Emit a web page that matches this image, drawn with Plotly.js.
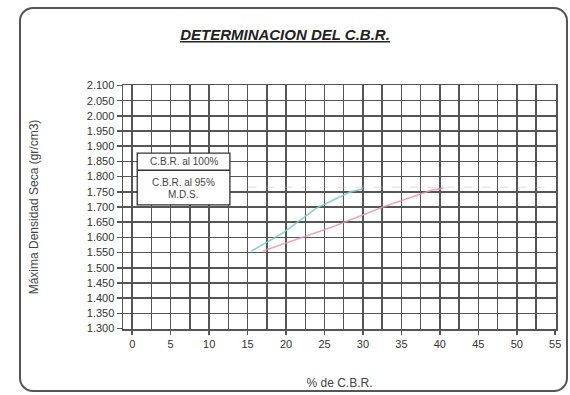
<!DOCTYPE html>
<html>
<head>
<meta charset="utf-8">
<script src="https://cdn.plot.ly/plotly-3.0.1.min.js"></script>
<style>
  html, body { margin: 0; padding: 0; background: #ffffff; }
  #wrap { position: relative; width: 570px; height: 395px; }
  #chart { width: 570px; height: 395px; }
  #frame { position: absolute; left: 19px; top: 7px; width: 545px; height: 381px;
           border: 2px solid #555; border-radius: 14px; pointer-events: none; }
</style>
</head>
<body>
<div id="wrap">
  <div id="chart"></div>
  <div id="frame"></div>
</div>
<script>
// ---- data ----
const cbr100X = [15.5, 19.6, 24.0, 28.3, 30.0];
const cbr100Y = [1.555, 1.615, 1.697, 1.749, 1.760];
const cbr95X  = [17.0, 21.0, 26.0, 32.6, 39.0, 40.5];
const cbr95Y  = [1.555, 1.590, 1.634, 1.700, 1.756, 1.762];
const mdsX    = [15.0, 55.0];
const mdsY    = [1.765, 1.765];
const legendLabels = ["C.B.R. al 100%", "C.B.R. al 95%", "M.D.S."];
const xTickVals = [0, 5, 10, 15, 20, 25, 30, 35, 40, 45, 50, 55];
const yTickVals = [1.30, 1.35, 1.40, 1.45, 1.50, 1.55, 1.60, 1.65, 1.70, 1.75, 1.80, 1.85, 1.90, 1.95, 2.00, 2.05, 2.10];
const xGridVals = [0, 2.5, 5, 7.5, 10, 12.5, 15, 17.5, 20, 22.5, 25, 27.5, 30, 32.5, 35, 37.5, 40, 42.5, 45, 47.5, 50, 52.5, 55];

const traces = [
  { x: cbr100X, y: cbr100Y, name: legendLabels[0], mode: 'lines', type: 'scatter',
    line: { color: 'rgba(110,205,205,0.85)', width: 1.6 }, showlegend: false },
  { x: cbr95X, y: cbr95Y, name: legendLabels[1], mode: 'lines', type: 'scatter',
    line: { color: 'rgba(230,150,175,0.85)', width: 1.6 }, showlegend: false },
  { x: mdsX, y: mdsY, name: legendLabels[2], mode: 'lines', type: 'scatter',
    line: { color: 'rgba(235,170,190,0.55)', width: 1.2, dash: 'dash' }, showlegend: false }
];

const font = 'Liberation Sans, Arial, sans-serif';
const gridCol = '#555555';

const layout = {
  width: 570, height: 395,
  margin: { l: 123, r: 14, t: 85, b: 66 },
  paper_bgcolor: '#ffffff', plot_bgcolor: '#ffffff',
  font: { family: font, color: '#333', size: 10 },
  title: {
    text: '<u><b><i>DETERMINACION DEL C.B.R.</i></b></u>',
    x: 0.5, xref: 'container', y: 0.912, yref: 'container', yanchor: 'middle',
    font: { family: font, size: 15, color: '#222' }
  },
  xaxis: {
    range: [-1.2, 55.1], tickvals: xTickVals, ticktext: xTickVals.map(String),
    showgrid: false,
    ticks: 'outside', ticklen: 4, tickcolor: gridCol, tickwidth: 1.5,
    showline: true, linecolor: gridCol, linewidth: 1.5, mirror: true,
    zeroline: false,
    tickfont: { family: font, size: 11, color: '#333' },
    title: { text: '% de C.B.R.', font: { family: font, size: 12, color: '#444' }, standoff: 30 }
  },
  xaxis2: {
    overlaying: 'x', matches: 'x', range: [-1.2, 55.1], tickvals: xGridVals,
    showticklabels: false, showgrid: true, gridcolor: gridCol, gridwidth: 1.5,
    ticks: '', zeroline: false, showline: false
  },
  yaxis: {
    range: [1.2985, 2.1015], tickvals: yTickVals, ticktext: yTickVals.map(v => v.toFixed(3)),
    showgrid: true, gridcolor: gridCol, gridwidth: 1.5,
    ticks: 'outside', ticklen: 5, tickcolor: gridCol, tickwidth: 1.5,
    showline: true, linecolor: gridCol, linewidth: 1.5, mirror: true,
    zeroline: false,
    tickfont: { family: font, size: 11, color: '#333' },
    title: { text: 'Máxima Densidad Seca (gr/cm3)', font: { family: font, size: 12, color: '#444' }, standoff: 45 }
  },
  shapes: [
    { type: 'rect', xref: 'x', yref: 'y', x0: 0.65, x1: 12.7, y0: 1.707, y1: 1.877,
      line: { color: '#333', width: 1.3 }, fillcolor: '#ffffff', layer: 'above' },
    { type: 'line', xref: 'x', yref: 'y', x0: 0.65, x1: 12.7, y0: 1.821, y1: 1.821,
      line: { color: '#333', width: 1.3 }, layer: 'above' }
  ],
  annotations: [
    { xref: 'x', yref: 'y', x: 6.7, y: 1.849, text: legendLabels[0], showarrow: false,
      font: { family: font, size: 10, color: '#444' } },
    { xref: 'x', yref: 'y', x: 6.7, y: 1.781, text: legendLabels[1], showarrow: false,
      font: { family: font, size: 10, color: '#444' } },
    { xref: 'x', yref: 'y', x: 6.7, y: 1.740, text: legendLabels[2], showarrow: false,
      font: { family: font, size: 10, color: '#444' } }
  ]
};

// invisible trace to activate the gridline axis
traces.unshift({ x: [0], y: [1.3], xaxis: 'x2', mode: 'markers', marker: { opacity: 0 },
  hoverinfo: 'skip', showlegend: false, type: 'scatter' });

Plotly.newPlot('chart', traces, layout, { displayModeBar: false, staticPlot: true });
</script>
</body>
</html>
